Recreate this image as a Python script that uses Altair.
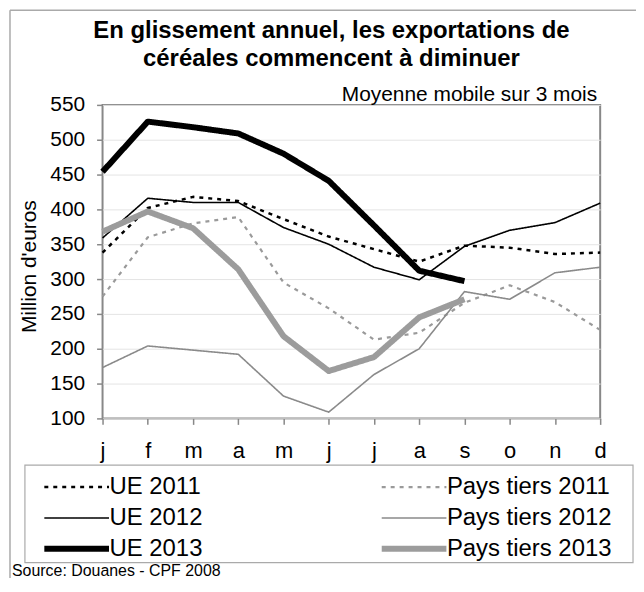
import altair as alt
import pandas as pd

months = ["janv", "févr", "mars", "avr", "mai", "juin", "juil", "août", "sept", "oct", "nov", "déc"]
month_labels = ["j", "f", "m", "a", "m", "j", "j", "a", "s", "o", "n", "d"]

ue_2011 = [338, 402, 418, 412, 386, 361, 343, 325, 348, 345, 336, 338]
ue_2012 = [359, 416, 410, 410, 374, 350, 317, 299, 347, 370, 381, 409]
ue_2013 = [454, 526, 518, 509, 480, 441, 377, 312, 297]
pt_2011 = [275, 360, 380, 389, 295, 258, 213, 223, 266, 291, 267, 227]
pt_2012 = [173, 204, 198, 192, 132, 109, 163, 200, 282, 271, 309, 317]
pt_2013 = [368, 397, 373, 314, 218, 168, 188, 245, 271]

series_names = ["UE 2011", "UE 2012", "UE 2013", "Pays tiers 2011", "Pays tiers 2012", "Pays tiers 2013"]
series_values = [ue_2011, ue_2012, ue_2013, pt_2011, pt_2012, pt_2013]
series_colors = ["#000000", "#000000", "#000000", "#9a9a9a", "#8a8a8a", "#9c9c9c"]
series_widths = [2.5, 1.6, 6, 2.2, 1.6, 6]
series_dashes = [[4, 5], [1, 0], [1, 0], [4, 5], [1, 0], [1, 0]]
draw_order = [1, 2, 5, 0, 3, 4]

rows = []
for name, vals, o in zip(series_names, series_values, draw_order):
    for m, v in zip(months, vals):
        rows.append({"mois": m, "serie": name, "valeur": v, "ordre": o})
df = pd.DataFrame(rows)

FONT = "Liberation Sans"

label_expr = "[" + ",".join("'%s'" % l for l in month_labels) + "][indexof([" + ",".join("'%s'" % m for m in months) + "], datum.value)]"

legend = alt.Legend(
    title=None,
    orient="none",
    legendX=-64,
    legendY=372,
    columns=2,
    columnPadding=167,
    rowPadding=7,
    padding=0,
    symbolType="M-5,0H5",
    symbolSize=169,
    symbolOffset=26,
    labelOffset=21,
    labelFont=FONT,
    labelFontSize=24,
    labelColor="#000000",
    labelLimit=300,
)

lines = alt.Chart(df).mark_line(strokeJoin="round").encode(
    x=alt.X(
        "mois:N",
        sort=months,
        scale=alt.Scale(type="point", padding=0),
        axis=alt.Axis(
            title=None,
            labelExpr=label_expr,
            labelAngle=0,
            labelFont=FONT,
            labelFontSize=22,
            labelColor="#000000",
            labelPadding=16,
            tickSize=6,
            tickColor="#888888",
            tickWidth=1.5,
            domain=False,
            grid=False,
        ),
    ),
    y=alt.Y(
        "valeur:Q",
        scale=alt.Scale(domain=[100, 550], nice=False, zero=False),
        axis=alt.Axis(
            title="Million d'euros",
            titleFont=FONT,
            titleFontSize=21,
            titleFontWeight="normal",
            titleColor="#000000",
            titleX=-73,
            titleY=162,
            titleAngle=-90,
            titleAlign="center",
            titleBaseline="middle",
            values=list(range(100, 551, 50)),
            labelFont=FONT,
            labelFontSize=21,
            labelColor="#000000",
            labelPadding=12,
            tickSize=6,
            tickColor="#888888",
            tickWidth=1.5,
            domain=False,
            grid=True,
            gridColor="#e4e4e4",
            gridWidth=1,
        ),
    ),
    color=alt.Color("serie:N", scale=alt.Scale(domain=series_names, range=series_colors), legend=legend),
    strokeWidth=alt.StrokeWidth(
        "serie:O", scale=alt.Scale(type="ordinal", domain=series_names, range=series_widths), legend=legend
    ),
    strokeDash=alt.StrokeDash("serie:N", scale=alt.Scale(domain=series_names, range=series_dashes), legend=legend),
    order=alt.Order("ordre:Q"),
)

one = pd.DataFrame({"k": [0]})

frame_top = alt.Chart(one).mark_rule(color="#aaaaaa", strokeWidth=1.5).encode(
    x=alt.value(-93), x2=alt.value(560), y=alt.value(-95)
)
frame_left = alt.Chart(one).mark_rule(color="#aaaaaa", strokeWidth=1.5).encode(
    x=alt.value(-93), y=alt.value(-95), y2=alt.value(480)
)
legend_box = alt.Chart(one).mark_rect(fill=None, stroke="#aaaaaa", strokeWidth=1.2).encode(
    x=alt.value(-78), x2=alt.value(533), y=alt.value(362), y2=alt.value(460)
)
subtitle = alt.Chart(one).mark_text(
    text="Moyenne mobile sur 3 mois", font=FONT, fontSize=21, align="right", baseline="alphabetic", color="#000000"
).encode(x=alt.value(497), y=alt.value(-4))
source = alt.Chart(one).mark_text(
    text="Source: Douanes - CPF 2008", font=FONT, fontSize=16, align="left", baseline="alphabetic", color="#000000"
).encode(x=alt.value(-91), y=alt.value(473))

chart = alt.layer(frame_top, frame_left, legend_box, lines, subtitle, source).properties(
    width=500,
    height=315,
    autosize=alt.AutoSizeParams(type="none"),
    padding={"left": 95, "top": 96, "right": 36, "bottom": 159},
    title=alt.TitleParams(
        text=["En glissement annuel, les exportations de", "céréales commencent à diminuer"],
        font=FONT,
        fontSize=24,
        fontWeight="bold",
        color="#000000",
        anchor="middle",
        dx=-20,
        lineHeight=28,
        offset=-62,
    ),
).configure_view(stroke="#888888", strokeWidth=2)

chart.save("out.html", embed_options={"renderer": "svg", "actions": False})
